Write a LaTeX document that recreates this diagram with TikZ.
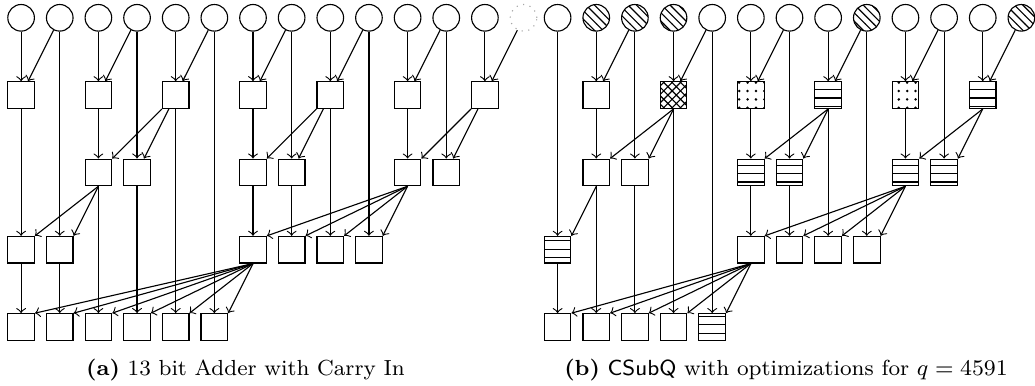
\documentclass[tikz,border=0pt]{standalone}
\usetikzlibrary{patterns}
\tikzset{
  bit/.style={circle, draw, minimum size=9.5pt, inner sep=0pt},
  carrybit/.style={circle, draw=gray!70, dotted, minimum size=9.5pt, inner sep=0pt},
  pg/.style={rectangle, draw, minimum size=9.5pt, inner sep=0pt},
  hatched/.style={pattern=north west lines},
  striped/.style={pattern=horizontal lines},
  spotted/.style={pattern=dots},
  crossed/.style={pattern=crosshatch},
  wire/.style={->},
  caption/.style={anchor=base, font=\fontsize{7.8}{9.5}\selectfont},
}
\begin{document}
\begin{tikzpicture}[x=0.35714pt, y=-0.35714pt]
\useasboundingbox (0,0) rectangle (1035,385);

% ---------------- (a) 13 bit adder with carry in ----------------
\foreach \k in {0,...,12}
  \node[bit] (lIn\k) at ({21.1+38.65*\k},17.8) {};
\node[carrybit] (lIn13) at ({21.1+38.65*13},17.8) {};

\foreach \k in {0,2,...,12}
  \node[pg] (lA\k) at ({21.1+38.65*\k},95.1) {};
\foreach \k in {2,3,6,7,10,11}
  \node[pg] (lB\k) at ({21.1+38.65*\k},172.4) {};
\foreach \k in {0,1,6,7,8,9}
  \node[pg] (lC\k) at ({21.1+38.65*\k},249.7) {};
\foreach \k in {0,...,5}
  \node[pg] (lD\k) at ({21.1+38.65*\k},327) {};

% level 1
\foreach \k/\j in {0/1,2/3,4/5,6/7,8/9,10/11,12/13} {
  \draw[wire] (lIn\k) -- (lA\k);
  \draw[wire] (lIn\j) -- (lA\k);
}
% level 2
\foreach \s/\t in {lA2/lB2,lA4/lB2,lIn3/lB3,lA4/lB3,
                   lA6/lB6,lA8/lB6,lIn7/lB7,lA8/lB7,
                   lA10/lB10,lA12/lB10,lIn11/lB11,lA12/lB11}
  \draw[wire] (\s) -- (\t);
% level 3
\foreach \s/\t in {lA0/lC0,lIn1/lC1,lB6/lC6,lB7/lC7,lA8/lC8,lIn9/lC9}
  \draw[wire] (\s) -- (\t);
\foreach \t in {lC0,lC1}
  \draw[wire] (lB2.south) -- (\t.north east);
\foreach \t in {lC6,lC7,lC8,lC9}
  \draw[wire] (lB10.south) -- (\t.north east);
% level 4
\foreach \s/\t in {lC0/lD0,lC1/lD1,lB2/lD2,lB3/lD3,lA4/lD4,lIn5/lD5}
  \draw[wire] (\s) -- (\t);
\foreach \k in {0,...,5}
  \draw[wire] (lC6.south) -- (lD\k.north east);

\node[caption] (capA) at (245.5,375)
  {\textbf{(a)} 13 bit Adder with Carry In};

% ---------------- (b) CSubQ for q = 4591 ----------------
\foreach \k in {0,4,5,6,7,9,10,11}
  \node[bit] (rIn\k) at ({557.6+38.65*\k},17.8) {};
\foreach \k in {1,2,3,8,12}
  \node[bit, hatched] (rIn\k) at ({557.6+38.65*\k},17.8) {};

\node[pg] (rA1) at ({557.6+38.65*1},95.1) {};
\node[pg, crossed] (rA3) at ({557.6+38.65*3},95.1) {};
\node[pg, spotted] (rA5) at ({557.6+38.65*5},95.1) {};
\node[pg, striped] (rA7) at ({557.6+38.65*7},95.1) {};
\node[pg, spotted] (rA9) at ({557.6+38.65*9},95.1) {};
\node[pg, striped] (rA11) at ({557.6+38.65*11},95.1) {};

\foreach \k in {1,2}
  \node[pg] (rB\k) at ({557.6+38.65*\k},172.4) {};
\foreach \k in {5,6,9,10}
  \node[pg, striped] (rB\k) at ({557.6+38.65*\k},172.4) {};

\node[pg, striped] (rC0) at (557.6,249.7) {};
\foreach \k in {5,6,7,8}
  \node[pg] (rC\k) at ({557.6+38.65*\k},249.7) {};

\foreach \k in {0,...,3}
  \node[pg] (rD\k) at ({557.6+38.65*\k},327) {};
\node[pg, striped] (rD4) at ({557.6+38.65*4},327) {};

% level 1
\foreach \k/\j in {1/2,3/4,5/6,7/8,9/10,11/12} {
  \draw[wire] (rIn\k) -- (rA\k);
  \draw[wire] (rIn\j) -- (rA\k);
}
% level 2
\foreach \s/\t in {rA1/rB1,rIn2/rB2,rA5/rB5,rIn6/rB6,rA9/rB9,rIn10/rB10}
  \draw[wire] (\s) -- (\t);
\foreach \s/\t in {rA3/rB1,rA3/rB2,rA7/rB5,rA7/rB6,rA11/rB9,rA11/rB10}
  \draw[wire] (\s.south) -- (\t.north east);
% level 3
\foreach \s/\t in {rIn0/rC0,rB5/rC5,rB6/rC6,rA7/rC7,rIn8/rC8}
  \draw[wire] (\s) -- (\t);
\draw[wire] (rB1.south) -- (rC0.north east);
\foreach \t in {rC5,rC6,rC7,rC8}
  \draw[wire] (rB9.south) -- (\t.north east);
% level 4
\foreach \s/\t in {rC0/rD0,rB1/rD1,rB2/rD2,rA3/rD3,rIn4/rD4}
  \draw[wire] (\s) -- (\t);
\foreach \k in {0,...,4}
  \draw[wire] (rC5.south) -- (rD\k.north east);

\node[caption] (capB) at (786,375)
  {\textbf{(b)} \textsf{CSubQ} with optimizations for $q = 4591$};
\end{tikzpicture}
\end{document}
